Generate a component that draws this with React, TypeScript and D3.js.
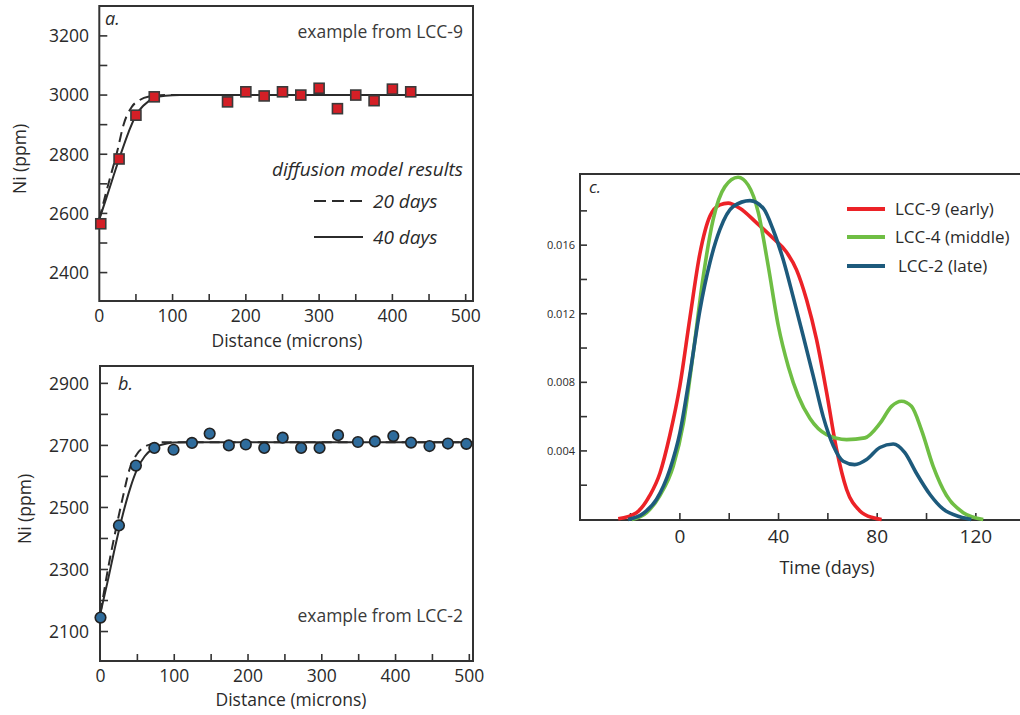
import React from 'react';
import * as d3 from 'd3';

// ---------- panel a: Ni profile, LCC-9 ----------
const lcc9Distance = [2, 27, 50, 75, 175, 200, 225, 250, 275, 300, 325, 350, 375, 400, 425];
const lcc9Ni = [2565, 2784, 2932, 2994, 2977, 3011, 2997, 3011, 3000, 3023, 2954, 3000, 2981, 3020, 3011];
const lcc9Model20Distance = [0, 9, 25, 33, 44, 55, 70, 90, 510];
const lcc9Model20Ni = [2580, 2668, 2815, 2899, 2959, 2983, 2996, 3000, 3000];
const lcc9Model40Distance = [0, 10, 27, 40, 50, 60, 75, 90, 110, 510];
const lcc9Model40Ni = [2580, 2655, 2784, 2875, 2932, 2964, 2990, 2998, 3000, 3000];

// ---------- panel b: Ni profile, LCC-2 ----------
const lcc2Distance = [0, 25, 48, 73, 99, 124, 148, 174, 197, 222, 247, 272, 297, 322, 349, 372, 397, 421, 446, 471, 496];
const lcc2Ni = [2145, 2442, 2635, 2692, 2686, 2708, 2738, 2700, 2703, 2692, 2725, 2692, 2692, 2733, 2711, 2713, 2730, 2709, 2698, 2706, 2705];
const lcc2Model20Distance = [0, 10, 20, 30, 40, 50, 60, 70, 85, 505];
const lcc2Model20Ni = [2160, 2300, 2420, 2530, 2628, 2674, 2696, 2705, 2710, 2710];
const lcc2Model40Distance = [0, 10, 20, 30, 40, 50, 60, 70, 80, 90, 100, 120, 505];
const lcc2Model40Ni = [2160, 2265, 2375, 2475, 2560, 2625, 2665, 2688, 2700, 2706, 2709, 2710, 2710];

// ---------- panel c: residence-time distributions ----------
const lcc9Time = [-25, -17.6, -12.2, -8.1, -4.1, 0, 4.1, 8.1, 12.2, 16.2, 19.6, 24.3, 31.1, 37.8, 43.2, 47.3, 51.4, 55.4, 59.5, 63.5, 67.6, 73, 78.4, 81.8];
const lcc9Density = [0.00004, 0.0004, 0.0014, 0.0027, 0.0049, 0.0078, 0.0118, 0.0155, 0.0177, 0.01835, 0.01845, 0.01815, 0.0173, 0.0164, 0.0156, 0.01456, 0.0128, 0.0105, 0.0074, 0.0041, 0.00175, 0.0005, 0.0001, 0];
const lcc4Time = [-19.6, -13.5, -8.1, -2.7, 1.4, 5.4, 9.5, 13.5, 18.2, 23.6, 27.7, 31.8, 35.8, 39.9, 44, 48, 52.7, 59.5, 67.6, 75, 81.1, 85.8, 89.9, 93.9, 98, 102.7, 108.1, 114.9, 123];
const lcc4Density = [0, 0.0004, 0.0014, 0.0031, 0.0056, 0.0097, 0.0142, 0.0175, 0.0194, 0.01996, 0.0195, 0.0179, 0.0148, 0.0113, 0.0089, 0.0072, 0.0059, 0.00495, 0.00466, 0.00476, 0.0056, 0.0066, 0.0069, 0.0066, 0.0052, 0.0031, 0.0014, 0.0004, 0];
const lcc2Time = [-21, -14.9, -9.5, -4.1, 0, 4.1, 8.1, 12.2, 16.2, 21.6, 28.4, 33.8, 37.8, 41.9, 45.9, 50, 54.1, 58.1, 62.2, 66.2, 70.9, 75.7, 81.1, 86.5, 91.2, 95.9, 101.4, 106.8, 113.5, 118.2];
const lcc2Density = [0, 0.00035, 0.00117, 0.0029, 0.00505, 0.0085, 0.0122, 0.015, 0.0169, 0.01825, 0.0186, 0.01815, 0.0169, 0.01515, 0.013, 0.0107, 0.00835, 0.006, 0.0043, 0.0034, 0.0032, 0.0035, 0.0042, 0.0044, 0.0039, 0.0027, 0.00146, 0.0006, 0.00016, 0];

const timeTickValues = [-20, 0, 20, 40, 60, 80, 100, 120];
const timeTickLabels = [0, 40, 80, 120];
const densityTickValues = [0.002, 0.004, 0.006, 0.008, 0.01, 0.012, 0.014, 0.016, 0.018];
const densityTickLabels = [0.004, 0.008, 0.012, 0.016];

const seriesNames = ['LCC-9 (early)', 'LCC-4 (middle)', 'LCC-2 (late)'];

const FONT = "'Open Sans', 'DejaVu Sans', sans-serif";
const INK = '#333';
const TEXT = '#2a2a2a';
const RED = '#ec2227';
const GREEN = '#6fbe44';
const BLUE = '#1d5a7c';

const zip = (xs: number[], ys: number[]) => xs.map((x, i) => [x, ys[i]] as [number, number]);

type ProfileProps = {
  tag: string;
  tagPos: [number, number];
  note: string;
  noteBaseline: number;
  xDomain: [number, number];
  xRange: [number, number];
  yDomain: [number, number];
  yRange: [number, number];
  frameLeft: number;
  yTicks: number[];
  yLabels: number[];
  xLabelBaseline: number;
  titleBaseline: number;
  titleX: number;
  yTitleX: number;
  yTitleY: number;
  distance: number[];
  ni: number[];
  m20: [number[], number[]];
  m40: [number[], number[]];
  marker: 'square' | 'circle';
  children?: React.ReactNode;
};

function Profile(p: ProfileProps) {
  const x = d3.scaleLinear().domain(p.xDomain).range(p.xRange);
  const y = d3.scaleLinear().domain(p.yDomain).range(p.yRange);
  const [top, bottom] = [p.yRange[1], p.yRange[0]];
  const right = p.xRange[1];
  const left = p.frameLeft;
  const line = d3
    .line<[number, number]>()
    .x((d) => x(d[0]))
    .y((d) => y(d[1]))
    .curve(d3.curveMonotoneX);
  const xTicks = d3.range(50, 501, 50);
  const xLabels = d3.range(0, 501, 100);
  return (
    <g>
      <rect x={left} y={top} width={right - left} height={bottom - top} fill="none" stroke={INK} strokeWidth={2} />
      {xTicks.map((t) => (
        <line key={'xt' + t} x1={x(t)} x2={x(t)} y1={bottom} y2={bottom - 7} stroke={INK} strokeWidth={1.6} />
      ))}
      {p.yTicks.map((t) => (
        <line key={'yt' + t} x1={left} x2={left + 8} y1={y(t)} y2={y(t)} stroke={INK} strokeWidth={1.6} />
      ))}
      {xLabels.map((t) => (
        <text key={'xl' + t} x={x(t)} y={p.xLabelBaseline} fontSize={17.5} textAnchor="middle" fill={TEXT}>
          {t}
        </text>
      ))}
      {p.yLabels.map((t) => (
        <text key={'yl' + t} x={89} y={y(t)} dy="0.36em" fontSize={17.5} textAnchor="end" fill={TEXT}>
          {t}
        </text>
      ))}
      <text x={p.titleX} y={p.titleBaseline} fontSize={17.5} textAnchor="middle" fill={TEXT}>
        Distance (microns)
      </text>
      <text
        transform={`translate(${p.yTitleX},${p.yTitleY}) rotate(-90)`}
        fontSize={17.5}
        textAnchor="middle"
        fill={TEXT}
      >
        Ni (ppm)
      </text>
      <text x={p.tagPos[0]} y={p.tagPos[1]} fontSize={18} fontStyle="italic" fill={TEXT}>
        {p.tag}
      </text>
      <text x={463} y={p.noteBaseline} fontSize={17.5} textAnchor="end" fill="#3a3a3a">
        {p.note}
      </text>
      <path d={line(zip(p.m20[0], p.m20[1])) || ''} fill="none" stroke="#2b2b2b" strokeWidth={2} strokeDasharray="10,6" />
      <path d={line(zip(p.m40[0], p.m40[1])) || ''} fill="none" stroke="#2b2b2b" strokeWidth={2} />
      {p.distance.map((d, i) =>
        p.marker === 'square' ? (
          <rect
            key={'m' + i}
            x={x(d) - 5}
            y={y(p.ni[i]) - 5}
            width={10}
            height={10}
            fill="#d41f26"
            stroke="#3a3a3a"
            strokeWidth={1.6}
          />
        ) : (
          <circle key={'m' + i} cx={x(d)} cy={y(p.ni[i])} r={5.3} fill="#2f6c9c" stroke="#222" strokeWidth={1.6} />
        )
      )}
      {p.children}
    </g>
  );
}

function Distribution() {
  const x = d3.scaleLinear().domain([-40.5, 137.9]).range([580, 1020]);
  const y = d3.scaleLinear().domain([0, 0.02015]).range([519.5, 174]);
  const line = d3
    .line<[number, number]>()
    .x((d) => x(d[0]))
    .y((d) => y(d[1]))
    .curve(d3.curveMonotoneX);
  const series = [
    { t: lcc9Time, v: lcc9Density, color: RED },
    { t: lcc4Time, v: lcc4Density, color: GREEN },
    { t: lcc2Time, v: lcc2Density, color: BLUE },
  ];
  const legendY = [209, 237, 266];
  return (
    <g>
      <path d="M1020,174 H580 V520 H1020" fill="none" stroke={INK} strokeWidth={2} />
      {timeTickValues.map((t) => (
        <line key={'tt' + t} x1={x(t)} x2={x(t)} y1={520} y2={513} stroke={INK} strokeWidth={1.6} />
      ))}
      {densityTickValues.map((t) => (
        <line key={'dt' + t} x1={580} x2={587} y1={y(t)} y2={y(t)} stroke={INK} strokeWidth={1.6} />
      ))}
      {timeTickLabels.map((t) => (
        <text key={'tl' + t} x={x(t)} y={543} fontSize={19} textAnchor="middle" fill={TEXT}>
          {t}
        </text>
      ))}
      {densityTickLabels.map((t) => (
        <text key={'dl' + t} x={575} y={y(t)} dy="0.36em" fontSize={11} textAnchor="end" fill={TEXT}>
          {t.toFixed(3)}
        </text>
      ))}
      <text x={827} y={574} fontSize={18} textAnchor="middle" fill={TEXT}>
        Time (days)
      </text>
      <text x={589} y={193} fontSize={17} fontStyle="italic" fill={TEXT}>
        c.
      </text>
      {series.map((s, i) => (
        <path key={'s' + i} d={line(zip(s.t, s.v)) || ''} fill="none" stroke={s.color} strokeWidth={3.6} strokeLinejoin="round" />
      ))}
      {series.map((s, i) => (
        <g key={'lg' + i}>
          <line x1={847} x2={885} y1={legendY[i]} y2={legendY[i]} stroke={s.color} strokeWidth={4} />
          <text x={i === 2 ? 898 : 895} y={legendY[i]} dy="0.36em" fontSize={17} fill={TEXT}>
            {seriesNames[i]}
          </text>
        </g>
      ))}
    </g>
  );
}

export default function App() {
  return (
    <svg
      width={1020}
      height={715}
      style={{ position: 'absolute', left: 0, top: 0, background: '#fff' }}
      fontFamily={FONT}
    >
      <Profile
        tag="a."
        tagPos={[105, 25]}
        note="example from LCC-9"
        noteBaseline={38}
        xDomain={[0, 510]}
        xRange={[99.3, 473]}
        yDomain={[2304, 3301]}
        yRange={[301, 6]}
        frameLeft={99.3}
        yTicks={d3.range(2400, 3201, 100)}
        yLabels={d3.range(2400, 3201, 200)}
        xLabelBaseline={322}
        titleBaseline={347}
        titleX={287}
        yTitleX={26}
        yTitleY={159}
        distance={lcc9Distance}
        ni={lcc9Ni}
        m20={[lcc9Model20Distance, lcc9Model20Ni]}
        m40={[lcc9Model40Distance, lcc9Model40Ni]}
        marker="square"
      >
        <text x={463} y={176} fontSize={19} fontStyle="italic" textAnchor="end" fill={TEXT}>
          diffusion model results
        </text>
        <line x1={314} x2={363} y1={201} y2={201} stroke="#2b2b2b" strokeWidth={2} strokeDasharray="12,6" />
        <text x={373} y={207.5} fontSize={19} fontStyle="italic" fill={TEXT}>
          20 days
        </text>
        <line x1={314} x2={363} y1={237} y2={237} stroke="#2b2b2b" strokeWidth={2} />
        <text x={373} y={243.5} fontSize={19} fontStyle="italic" fill={TEXT}>
          40 days
        </text>
      </Profile>
      <Profile
        tag="b."
        tagPos={[118, 390]}
        note="example from LCC-2"
        noteBaseline={622}
        xDomain={[0, 505]}
        xRange={[100.5, 473]}
        yDomain={[2005, 2956]}
        yRange={[661, 366]}
        frameLeft={100}
        yTicks={d3.range(2100, 2901, 100)}
        yLabels={d3.range(2100, 2901, 200)}
        xLabelBaseline={682}
        titleBaseline={706}
        titleX={291}
        yTitleX={31}
        yTitleY={509}
        distance={lcc2Distance}
        ni={lcc2Ni}
        m20={[lcc2Model20Distance, lcc2Model20Ni]}
        m40={[lcc2Model40Distance, lcc2Model40Ni]}
        marker="circle"
      />
      <Distribution />
    </svg>
  );
}
